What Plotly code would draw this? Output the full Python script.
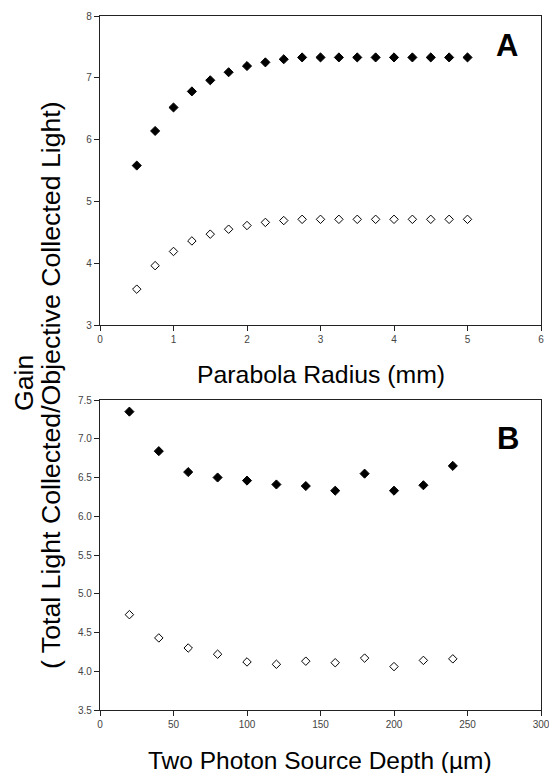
import plotly.graph_objects as go

# Panel A data
radius_mm = [0.5, 0.75, 1.0, 1.25, 1.5, 1.75, 2.0, 2.25, 2.5, 2.75, 3.0, 3.25, 3.5, 3.75, 4.0, 4.25, 4.5, 4.75, 5.0]
gain_a_filled = [5.58, 6.14, 6.52, 6.78, 6.96, 7.09, 7.19, 7.25, 7.30, 7.33, 7.33, 7.33, 7.33, 7.33, 7.33, 7.33, 7.33, 7.33, 7.33]
gain_a_open = [3.58, 3.96, 4.19, 4.36, 4.47, 4.55, 4.61, 4.66, 4.69, 4.71, 4.71, 4.71, 4.71, 4.71, 4.71, 4.71, 4.71, 4.71, 4.71]

# Panel B data
depth_um = [20, 40, 60, 80, 100, 120, 140, 160, 180, 200, 220, 240]
gain_b_filled = [7.35, 6.84, 6.57, 6.50, 6.46, 6.41, 6.39, 6.33, 6.55, 6.33, 6.40, 6.65]
gain_b_open = [4.73, 4.43, 4.30, 4.22, 4.12, 4.09, 4.13, 4.11, 4.17, 4.06, 4.14, 4.16]

xa_ticks = [0, 1, 2, 3, 4, 5, 6]
ya_ticks = [3, 4, 5, 6, 7, 8]
xb_ticks = [0, 50, 100, 150, 200, 250, 300]
yb_ticks = [3.5, 4.0, 4.5, 5.0, 5.5, 6.0, 6.5, 7.0, 7.5]

W, H = 549, 773
FONT = "Liberation Sans, Arial, sans-serif"

fig = go.Figure()

filled = dict(symbol="diamond", size=7, color="black", line=dict(color="black", width=1))
opened = dict(symbol="diamond", size=6.5, color="white", line=dict(color="black", width=1))

fig.add_trace(go.Scatter(x=radius_mm, y=gain_a_filled, mode="markers", marker=filled, xaxis="x", yaxis="y", showlegend=False))
fig.add_trace(go.Scatter(x=radius_mm, y=gain_a_open, mode="markers", marker=opened, xaxis="x", yaxis="y", showlegend=False))
fig.add_trace(go.Scatter(x=depth_um, y=gain_b_filled, mode="markers", marker=filled, xaxis="x2", yaxis="y2", showlegend=False))
fig.add_trace(go.Scatter(x=depth_um, y=gain_b_open, mode="markers", marker=opened, xaxis="x2", yaxis="y2", showlegend=False))

xdom = [100 / W, 541 / W]
ydomA = [1 - 325 / H, 1 - 16 / H]
ydomB = [1 - 710 / H, 1 - 400 / H]

axis_common = dict(
    showline=True, linecolor="#222", linewidth=1.2, mirror=True,
    ticks="outside", ticklen=5, tickwidth=1, tickcolor="#222",
    showgrid=False, zeroline=False, automargin=False,
    ticklabeloverflow="allow",
    tickfont=dict(family=FONT, size=10, color="#444"),
)

fig.update_layout(
    width=W, height=H, autosize=False,
    margin=dict(l=0, r=0, t=0, b=0, pad=0, autoexpand=False),
    paper_bgcolor="white", plot_bgcolor="white",
    xaxis=dict(domain=xdom, anchor="y", range=[0, 6], tickvals=xa_ticks, ticktext=[str(v) for v in xa_ticks], **axis_common),
    yaxis=dict(domain=ydomA, anchor="x", range=[3, 8], tickvals=ya_ticks, ticktext=[str(v) for v in ya_ticks], **axis_common),
    xaxis2=dict(domain=xdom, anchor="y2", range=[0, 300], tickvals=xb_ticks, ticktext=[str(v) for v in xb_ticks], **axis_common),
    yaxis2=dict(domain=ydomB, anchor="x2", range=[3.5, 7.5], tickvals=yb_ticks, ticktext=[f"{v:.1f}" for v in yb_ticks], **axis_common),
    font=dict(family=FONT),
)

anns = [
    dict(text="Parabola Radius (mm)", x=321 / W, y=1 - 374 / H, font=dict(size=24.8, color="black", family=FONT)),
    dict(text="Two Photon Source Depth (\u00b5m)", x=320 / W, y=1 - 760 / H, font=dict(size=24.5, color="black", family=FONT)),
    dict(text="Gain", x=24 / W, y=1 - 383 / H, textangle=-90, font=dict(size=26.7, color="black", family=FONT)),
    dict(text="( Total Light Collected/Objective Collected Light)", x=51 / W, y=1 - 385 / H, textangle=-90, font=dict(size=26.7, color="black", family=FONT)),
    dict(text="<b>A</b>", x=507 / W, y=1 - 45 / H, font=dict(size=31, color="black", family=FONT)),
    dict(text="<b>B</b>", x=508 / W, y=1 - 438 / H, font=dict(size=31, color="black", family=FONT)),
]
for a in anns:
    fig.add_annotation(xref="paper", yref="paper", xanchor="center", yanchor="middle", showarrow=False, **a)

fig.write_html(
    "out.html",
    config={"displayModeBar": False, "responsive": False},
    post_script="document.body.style.margin='0';document.body.style.overflow='hidden';",
)
